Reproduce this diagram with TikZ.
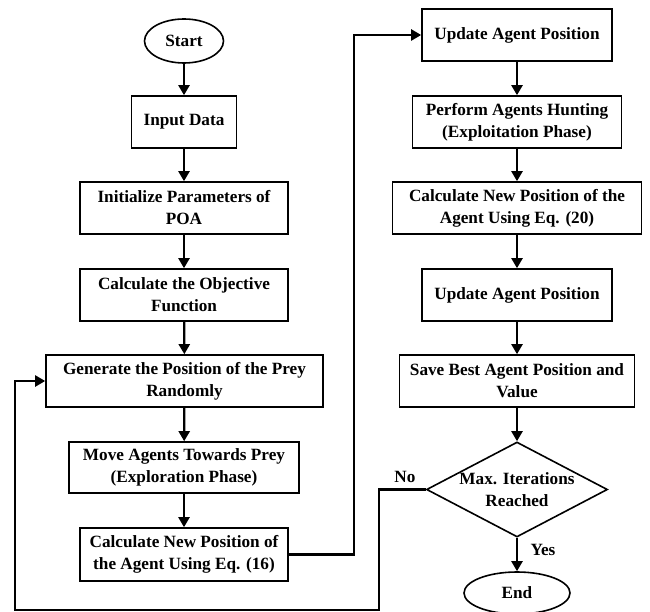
\documentclass[tikz,border=0pt]{standalone}
\usepackage{fontspec}
\setmainfont{Liberation Serif}
\usetikzlibrary{shapes.geometric,arrows.meta}
\begin{document}
\begin{tikzpicture}[x=1pt,y=-1pt,
  every node/.style={font=\fontsize{17.2}{22}\selectfont\bfseries, align=center},
  procbox/.style={draw, line width=1.6pt, rectangle, inner sep=0pt, minimum height=52pt},
  term/.style={draw, line width=1.6pt, ellipse, inner sep=0pt},
  decbox/.style={draw, line width=1.6pt, diamond, inner sep=0pt, minimum width=181pt, minimum height=95pt},
  arr/.style={line width=2.2pt, -{Triangle[length=10pt,width=11pt]}},
  conn/.style={line width=2.2pt}]
\useasboundingbox (0,0) rectangle (650,612);
\fill[white] (0,0) rectangle (650,612);
% left column
\node[term, minimum width=79pt, minimum height=44pt] (start) at (184,41) {Start};
\node[procbox, minimum width=105pt] (input) at (184,122) {Input Data};
\node[procbox, minimum width=208pt] (init) at (184,208) {Initialize Parameters of\\POA};
\node[procbox, minimum width=208pt] (obj) at (184,295) {Calculate the Objective\\Function};
\node[procbox, minimum width=277pt] (gen) at (184.5,381) {Generate the Position of the Prey\\Randomly};
\node[procbox, minimum width=230pt, minimum height=51pt] (move) at (184,467.5) {Move Agents Towards Prey\\(Exploration Phase)};
\node[procbox, minimum width=208pt, minimum height=53pt] (calc16) at (184,554.5) {Calculate New Position of\\the Agent Using Eq. (16)};
% right column
\node[procbox, minimum width=190pt] (upd1) at (517,35) {Update Agent Position};
\node[procbox, minimum width=209pt] (hunt) at (517,122) {Perform Agents Hunting\\(Exploitation Phase)};
\node[procbox, minimum width=249pt] (calc20) at (517,208) {Calculate New Position of the\\Agent Using Eq. (20)};
\node[procbox, minimum width=190pt] (upd2) at (517,295) {Update Agent Position};
\node[procbox, minimum width=235pt] (save) at (517,381) {Save Best Agent Position and\\Value};
\node[decbox] (dec) at (517,489.5) {};
\node (dectext) at (dec.center) {Max. Iterations\\Reached};
\node[term, minimum width=106pt, minimum height=42pt] (end) at (517,593) {End};
% labels
\node (no) at (405,477) {No};
\node (yes) at (543,550) {Yes};
% coordinates
\coordinate (c1) at (354,554.5);
\coordinate (n1) at (379,489.5);
\coordinate (n2) at (15,610);
% arrows
\draw[arr] (start) -- (input);
\draw[arr] (input) -- (init);
\draw[arr] (init) -- (obj);
\draw[arr] (obj) -- (gen);
\draw[arr] (gen) -- (move);
\draw[arr] (move) -- (calc16);
\draw[arr] (calc16.east) -- (c1) |- (upd1.west);
\draw[arr] (upd1) -- (hunt);
\draw[arr] (hunt) -- (calc20);
\draw[arr] (calc20) -- (upd2);
\draw[arr] (upd2) -- (save);
\draw[arr] (save) -- (dec.north);
\draw[arr] (dec.south) -- (end);
\draw[arr] (dec.west) -- (n1) |- (n2) |- (gen.west);
\end{tikzpicture}
\end{document}
